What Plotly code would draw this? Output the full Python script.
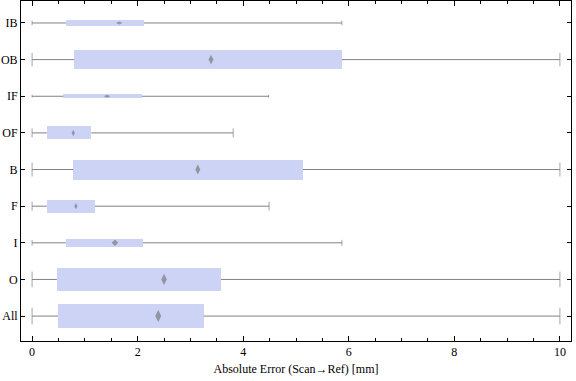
import plotly.graph_objects as go

categories = ["All", "O", "I", "F", "B", "OF", "IF", "OB", "IB"]
mins = [0, 0, 0, 0, 0, 0, 0, 0, 0]
q1 = [0.49, 0.47, 0.64, 0.28, 0.78, 0.28, 0.59, 0.80, 0.64]
q3 = [3.25, 3.58, 2.10, 1.19, 5.13, 1.12, 2.08, 5.87, 2.12]
maxs = [10, 10, 5.87, 4.49, 10, 3.81, 4.48, 10, 5.87]
markers = [2.39, 2.50, 1.57, 0.83, 3.14, 0.78, 1.42, 3.39, 1.65]
box_widths = [0.647, 0.61, 0.23, 0.347, 0.546, 0.355, 0.11, 0.52, 0.183]

BOX_COLOR = "#CCD3F5"
GRAY = "#808080"
FONT = "Liberation Serif"

ypos = list(range(len(categories)))

fig = go.Figure()

fig.add_trace(go.Bar(
    y=ypos, x=[b - a for a, b in zip(q1, q3)], base=q1, orientation="h",
    width=box_widths, marker=dict(color=BOX_COLOR, line=dict(width=0)),
    showlegend=False, hoverinfo="skip",
))

# whiskers (outside the box)
wx, wy = [], []
for i in ypos:
    wx += [mins[i], q1[i], None, q3[i], maxs[i], None]
    wy += [i, i, None, i, i, None]
fig.add_trace(go.Scatter(x=wx, y=wy, mode="lines", line=dict(color=GRAY, width=1),
                         showlegend=False, hoverinfo="skip"))

# caps
cap_sizes = [w * 36.6 * 0.5 for w in box_widths]
fig.add_trace(go.Scatter(
    x=mins + maxs, y=ypos + ypos, mode="markers",
    marker=dict(symbol="line-ns", size=cap_sizes + cap_sizes,
                line=dict(color=GRAY, width=1)),
    showlegend=False, hoverinfo="skip",
))

# diamonds
sym, sz = [], []
for w in box_widths:
    h = w * 36.6
    if h > 12:
        sym.append("diamond-tall"); sz.append(max(4.0, h * 0.36))
    elif h > 7:
        sym.append("diamond"); sz.append(5)
    else:
        sym.append("diamond-wide"); sz.append(4.5)
fig.add_trace(go.Scatter(
    x=markers, y=ypos, mode="markers",
    marker=dict(symbol=sym, size=sz, color="#7A7A7A", line=dict(width=0)),
    showlegend=False, hoverinfo="skip",
))

fig.update_layout(
    width=576, height=381,
    margin=dict(l=21, r=5, t=1, b=40, autoexpand=False),
    paper_bgcolor="white", plot_bgcolor="white",
    font=dict(family=FONT, size=12, color="black"),
    bargap=0,
)
fig.update_xaxes(
    range=[-0.21, 10.21], dtick=2, tick0=0,
    ticks="inside", ticklen=5, tickcolor="black", tickwidth=1,
    minor=dict(dtick=0.5, tick0=0, ticks="inside", ticklen=3, tickcolor="black"),
    showline=True, linecolor="black", linewidth=1, mirror="ticks",
    showgrid=False, zeroline=False, automargin=False,
    title=dict(text="Absolute Error (Scan→Ref) [mm]", font=dict(family=FONT, size=12), standoff=6),
    tickfont=dict(family=FONT, size=12),
)
fig.update_yaxes(
    range=[-0.68, 8.6], tickvals=ypos, ticktext=categories,
    ticks="inside", ticklen=4, tickcolor="black",
    showline=True, linecolor="black", linewidth=1, mirror="ticks",
    showgrid=False, zeroline=False, automargin=False,
    tickfont=dict(family=FONT, size=12),
)

fig.write_html("out.html", config={"displayModeBar": False},
               post_script="document.body.style.margin='0';document.body.style.overflow='hidden';")
